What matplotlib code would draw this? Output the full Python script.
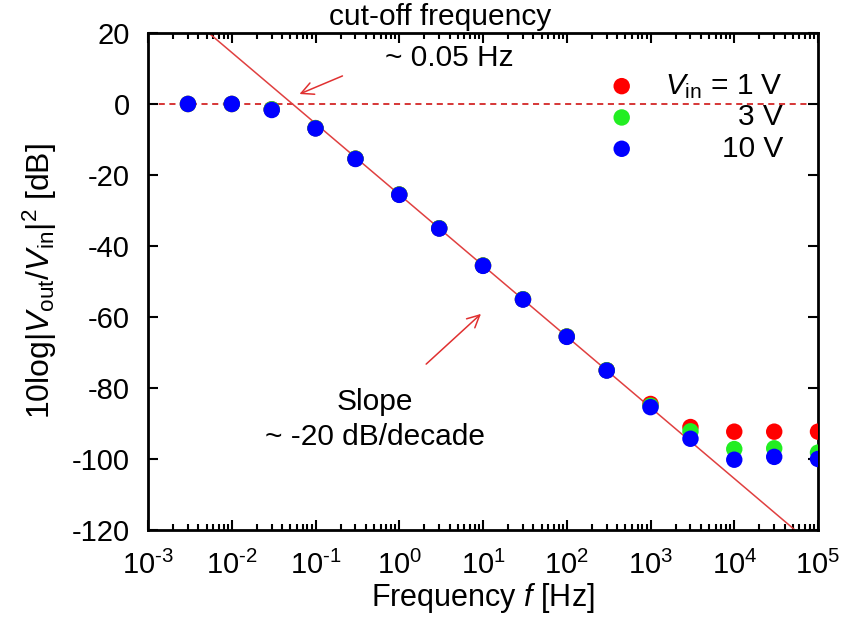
import numpy as np
import matplotlib.pyplot as plt
from matplotlib.ticker import LogLocator, FuncFormatter

plt.rcParams['font.family'] = ['Liberation Sans', 'DejaVu Sans']
plt.rcParams['mathtext.fontset'] = 'custom'
plt.rcParams['mathtext.rm'] = 'Liberation Sans'
plt.rcParams['mathtext.it'] = 'Liberation Sans:italic'
plt.rcParams['axes.unicode_minus'] = False

# measured gain vs frequency for three input amplitudes
freq = [0.003, 0.01, 0.03, 0.1, 0.3, 1, 3, 10, 30, 100, 300, 1000, 3000, 1e4, 3e4, 1e5]
gain_1v = [0, 0, -1.5, -6.8, -15.4, -25.5, -35.0, -45.5, -55.0, -65.5, -75.0, -84.5, -91.0, -92.3, -92.3, -92.3]
gain_3v = [0, 0, -1.5, -6.8, -15.4, -25.5, -35.0, -45.5, -55.0, -65.5, -75.0, -85.0, -92.2, -97.2, -97.0, -98.2]
gain_10v = [0, 0, -1.7, -6.9, -15.5, -25.6, -35.1, -45.6, -55.1, -65.6, -75.1, -85.4, -94.3, -100.2, -99.4, -100.0]
labels = ['$V_{\\rm in}$ = 1 V', '3 V', '10 V']
colors = ['#ff0000', '#22ee22', '#0000ff']

# -20 dB/decade fit
slope = -20.0
offset = -25.5

fs = 21.5

fig = plt.figure(figsize=(8.42, 6.22), dpi=100)
ax = fig.add_axes([0.1758, 0.1479, 0.7957, 0.7991])

fx = np.logspace(-3, 5, 200)
ax.plot(fx, slope * np.log10(fx) + offset, color='#e04040', lw=1.1, zorder=2)
ax.axhline(0, color='#cc0000', lw=1.1, ls=(0, (4, 3)), zorder=1)

for g, c in zip([gain_1v, gain_3v, gain_10v], colors):
    ax.scatter(freq, g, s=140, color=c, edgecolors='none', zorder=3)

# manual legend, text right aligned
for i, (lab, c) in enumerate(zip(labels, colors)):
    yy = 0.893 - i * 0.063
    ax.scatter([0.707], [yy], s=140, color=c, edgecolors='none', transform=ax.transAxes, zorder=4)
    ax.text(0.948, yy, lab, transform=ax.transAxes, ha='right', va='center', fontsize=fs)

ax.set_xscale('log')
ax.set_xlim(1e-3, 1e5)
ax.set_ylim(-120, 20)
ax.set_yticks(np.arange(-120, 21, 20))
ax.xaxis.set_major_locator(LogLocator(base=10, numticks=20))
ax.xaxis.set_minor_locator(LogLocator(base=10, subs=np.arange(2, 10), numticks=20))
ax.xaxis.set_major_formatter(FuncFormatter(
    lambda v, p: '$\\mathdefault{10^{\\text{%d}}}$' % round(np.log10(v))))
ax.tick_params(which='both', direction='in', top=True, right=True, labelsize=21, width=1.5)
ax.tick_params(which='major', length=7)
ax.tick_params(axis='x', which='major', pad=15)
ax.tick_params(axis='y', which='major', pad=13)
ax.tick_params(which='minor', length=4)
for sp in ax.spines.values():
    sp.set_linewidth(2)

ax.set_xlabel('Frequency $f$ [Hz]', fontsize=22, labelpad=1)
ax.set_ylabel('10log|$V_{\\rm out}$/$V_{\\rm in}$|$^2$ [dB]', fontsize=23, labelpad=9)

ax.text(3.07, 24.5, 'cut-off frequency', ha='center', va='center', fontsize=fs, clip_on=False)
ax.text(4.0, 13, '~ 0.05 Hz', ha='center', va='center', fontsize=fs)
ax.annotate('', xy=(0.06, 2.5), xytext=(0.225, 8.2),
            arrowprops=dict(arrowstyle='->', color='#e03030', lw=1.1, mutation_scale=22))
ax.text(0.51, -84, 'Slope', ha='center', va='center', fontsize=fs)
ax.text(0.51, -93.8, '~ -20 dB/decade', ha='center', va='center', fontsize=fs)
ax.annotate('', xy=(10, -58.6), xytext=(1.98, -73.8),
            arrowprops=dict(arrowstyle='->', color='#e03030', lw=1.1, mutation_scale=22))

fig.savefig('out.png', dpi=100)
